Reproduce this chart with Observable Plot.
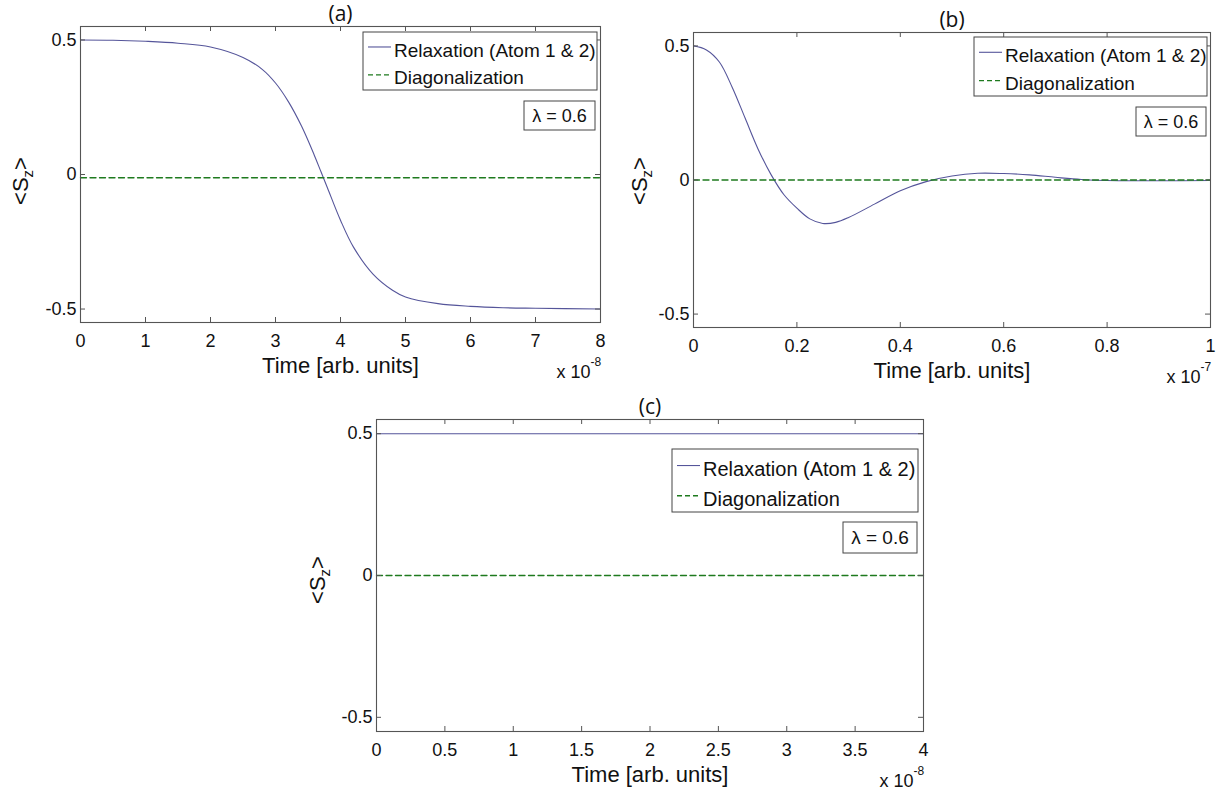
<!DOCTYPE html>
<html><head><meta charset="utf-8">
<script src="https://cdn.jsdelivr.net/npm/d3@7"></script>
<script src="https://cdn.jsdelivr.net/npm/@observablehq/plot@0.6"></script>
<style>
body{margin:0;background:#fff;}
#root{position:relative;width:1225px;height:795px;overflow:hidden;font-family:"Liberation Sans",Arial,sans-serif;color:#111;}
.panel{position:absolute;}
.ylab{position:absolute;transform:translate(-50%,-50%) rotate(-90deg);font-size:22px;white-space:nowrap;line-height:1;}
.ylab sub{font-size:15px;vertical-align:-5px;}
</style></head><body><div id="root"></div>
<script>
// ---------- data ----------
const seriesNames = ["Relaxation (Atom 1 & 2)", "Diagonalization"];
const lambdaText = "λ = 0.6";
const xLabelText = "Time [arb. units]";
const panelTitles = ["(a)", "(b)", "(c)"];
const exponents = ["-8", "-7", "-8"];

// panel (a): time in units of 1e-8
const timeA = [0,0.5,1,1.5,2,2.5,2.8,3,3.2,3.4,3.6,3.7,3.8,4,4.2,4.5,4.8,5,5.5,6,6.5,7,8];
const relaxA = [0.5,0.499,0.495,0.488,0.474,0.435,0.39,0.34,0.27,0.18,0.07,0.01,-0.05,-0.17,-0.27,-0.37,-0.43,-0.455,-0.48,-0.49,-0.495,-0.497,-0.5];
const diagTimeA = [0, 8];
const diagA = [-0.012, -0.012];
const xTicksA = [0,1,2,3,4,5,6,7,8];

// panel (b): time in units of 1e-7
const timeB = [0,0.025,0.05,0.075,0.1,0.125,0.15,0.175,0.2,0.225,0.25,0.275,0.3,0.35,0.4,0.45,0.5,0.55,0.6,0.65,0.7,0.75,0.8,0.9,1];
const relaxB = [0.5,0.485,0.44,0.345,0.23,0.115,0.02,-0.055,-0.105,-0.145,-0.162,-0.158,-0.14,-0.09,-0.04,-0.006,0.015,0.025,0.024,0.019,0.01,0.002,-0.002,-0.003,-0.002];
const diagTimeB = [0, 1];
const diagB = [0, 0];
const xTicksB = [0,0.2,0.4,0.6,0.8,1];

// panel (c): time in units of 1e-8
const timeC = [0, 4];
const relaxC = [0.5, 0.5];
const diagTimeC = [0, 4];
const diagC = [0, 0];
const xTicksC = [0,0.5,1,1.5,2,2.5,3,3.5,4];

const yTicks = [-0.5, 0, 0.5];
const yDomain = [-0.55, 0.55];

// ---------- layout / style ----------
const lineColor = "#55559a";
const diagColor = "#1e7a1e";
const frameColor = "#555";
const font = '"Liberation Sans", Arial, sans-serif';

const panels = [
  {title: panelTitles[0], t: timeA, v: relaxA, dt: diagTimeA, dv: diagA, ticks: xTicksA, exp: exponents[0],
   left: 0, top: 0, width: 620, height: 390, mL: 80, mR: 20, mT: 26, mB: 68,
   leg: {r: 3, t: 6, w: 234, h: 58, fs: 19}, lam: {r: 5, t: 75, w: 71, h: 29, fs: 18},
   ylab: [22, 181]},
  {title: panelTitles[1], t: timeB, v: relaxB, dt: diagTimeB, dv: diagB, ticks: xTicksB, exp: exponents[1],
   left: 620, top: 0, width: 605, height: 390, mL: 73, mR: 15, mT: 32, mB: 63,
   leg: {r: 3, t: 5, w: 233, h: 59, fs: 19}, lam: {r: 4, t: 75, w: 70, h: 29, fs: 18},
   ylab: [641, 181]},
  {title: panelTitles[2], t: timeC, v: relaxC, dt: diagTimeC, dv: diagC, ticks: xTicksC, exp: exponents[2],
   left: 300, top: 395, width: 650, height: 400, mL: 76, mR: 27, mT: 24, mB: 64,
   leg: {r: 5, t: 30, w: 246, h: 63, fs: 20}, lam: {r: 6, t: 103, w: 74, h: 31, fs: 19},
   ylab: [319, 580]}
];

const root = document.getElementById("root");
const fmt = d => String(d);

for (const p of panels) {
  const innerW = p.width - p.mL - p.mR;
  const innerH = p.height - p.mT - p.mB;
  const rows = p.t.map((t, i) => ({t, v: p.v[i]}));
  const drows = p.dt.map((t, i) => ({t, v: p.dv[i]}));
  const xDomain = [p.ticks[0], p.ticks[p.ticks.length - 1]];

  const svg = Plot.plot({
    width: p.width, height: p.height,
    marginLeft: p.mL, marginRight: p.mR, marginTop: p.mT, marginBottom: p.mB,
    style: {fontFamily: font, fontSize: "18px", color: "#111", background: "transparent", overflow: "visible"},
    x: {domain: xDomain},
    y: {domain: yDomain},
    marks: [
      Plot.line(rows, {x: "t", y: "v", stroke: lineColor, strokeWidth: 1.1, curve: "catmull-rom"}),
      Plot.line(drows, {x: "t", y: "v", stroke: diagColor, strokeWidth: 1.3, strokeDasharray: "6,3.5"}),
      Plot.frame({stroke: frameColor, strokeWidth: 1.1}),
      Plot.tickX(p.ticks, {x: d => d, insetTop: innerH - 5, stroke: frameColor}),
      Plot.tickX(p.ticks, {x: d => d, insetBottom: innerH - 5, stroke: frameColor}),
      Plot.tickY(yTicks, {y: d => d, insetRight: innerW - 5, stroke: frameColor}),
      Plot.tickY(yTicks, {y: d => d, insetLeft: innerW - 5, stroke: frameColor}),
      Plot.axisX(p.ticks, {tickSize: 0, tickPadding: 12, tickFormat: fmt, label: null, fontSize: 18}),
      Plot.axisY(yTicks, {tickSize: 0, tickPadding: 4, tickFormat: fmt, label: null, fontSize: 18}),
      Plot.text([xLabelText], {text: d => d, frameAnchor: "bottom", dy: 43, fontSize: 22, lineAnchor: "middle"}),
      Plot.text(["x 10"], {text: d => d, frameAnchor: "bottom-right", textAnchor: "end", dx: -10, dy: 50, fontSize: 18, lineAnchor: "middle"}),
      Plot.text([p.exp], {text: d => d, frameAnchor: "bottom-right", textAnchor: "start", dx: -10, dy: 40, fontSize: 12, lineAnchor: "middle"}),
      Plot.text([p.title], {text: d => d, frameAnchor: "top", dy: -12, fontSize: 21, fontFamily: '"Open Sans", "Noto Sans", sans-serif', lineAnchor: "middle"})
    ]
  });

  // legend and lambda box
  const s = d3.select(svg);
  const fr = p.width - p.mR;
  const L = p.leg;
  const lx = fr - L.r - L.w, ly = p.mT + L.t;
  const g = s.append("g").attr("font-family", font).attr("font-size", L.fs).attr("text-anchor", "start");
  g.append("rect").attr("x", lx).attr("y", ly).attr("width", L.w).attr("height", L.h)
    .attr("fill", "#fff").attr("stroke", "#444").attr("stroke-width", 1);
  const rowY = [ly + L.h * 0.31, ly + L.h * 0.79];
  const styles = [{stroke: lineColor, dash: null, w: 1.1}, {stroke: diagColor, dash: "5,3", w: 1.3}];
  seriesNames.forEach((name, i) => {
    g.append("line").attr("x1", lx + 5).attr("x2", lx + 28).attr("y1", rowY[i] - 3).attr("y2", rowY[i] - 3)
      .attr("stroke", styles[i].stroke).attr("stroke-width", styles[i].w)
      .attr("stroke-dasharray", styles[i].dash);
    g.append("text").attr("x", lx + 31).attr("y", rowY[i]).attr("dy", "0.35em")
      .attr("text-anchor", "start").attr("fill", "#111").text(name);
  });
  const M = p.lam;
  const mx = fr - M.r - M.w, my = p.mT + M.t;
  const g2 = s.append("g").attr("font-family", font).attr("font-size", M.fs);
  g2.append("rect").attr("x", mx).attr("y", my).attr("width", M.w).attr("height", M.h)
    .attr("fill", "#fff").attr("stroke", "#444").attr("stroke-width", 1);
  g2.append("text").attr("x", mx + M.w / 2).attr("y", my + M.h / 2).attr("dy", "0.35em")
    .attr("text-anchor", "middle").attr("fill", "#111").text(lambdaText);

  const wrap = document.createElement("div");
  wrap.className = "panel";
  wrap.style.left = p.left + "px";
  wrap.style.top = p.top + "px";
  wrap.appendChild(svg);
  root.appendChild(wrap);

  const yl = document.createElement("div");
  yl.className = "ylab";
  yl.style.left = p.ylab[0] + "px";
  yl.style.top = p.ylab[1] + "px";
  yl.innerHTML = "&lt;S<sub>z</sub>&gt;";
  root.appendChild(yl);
}
</script></body></html>
